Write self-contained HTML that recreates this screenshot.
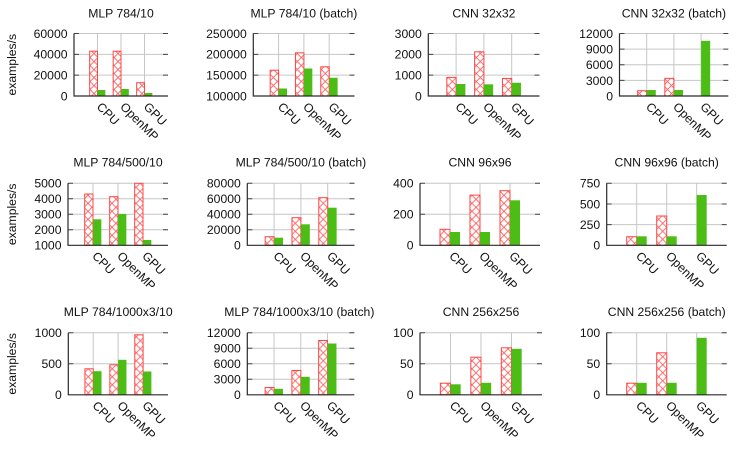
<!DOCTYPE html>
<html><head><meta charset="utf-8"><style>
html,body{margin:0;padding:0;background:#fff}
svg{display:block;font-family:"Liberation Sans",Arial,sans-serif;font-size:12.2px}
text{fill:#111}
.g{stroke:#c6c6c6;stroke-width:1;fill:none}
.t{stroke:#444;stroke-width:1;fill:none}
.a{stroke:#2a2a2a;stroke-width:1.2;fill:none}
.r{fill:url(#xh);stroke:#ff4545;stroke-width:1}
.q{fill:#4bbd14}
.yl{text-anchor:end}
.ti{text-anchor:middle}
</style></head><body>
<svg width="740" height="453" viewBox="0 0 740 453" xmlns="http://www.w3.org/2000/svg">
<defs>
<pattern id="xh" width="8" height="8" patternUnits="userSpaceOnUse">
<rect width="8" height="8" fill="#fff"/>
<path d="M-1 -1L9 9M9 -1L-1 9" stroke="#ff6060" stroke-width="0.9"/>
</pattern>
</defs>

<text transform="rotate(-90 16 64.7)" x="16" y="64.7" class="ti">examples/s</text>
<text transform="rotate(-90 16 214.3)" x="16" y="214.3" class="ti">examples/s</text>
<text transform="rotate(-90 16 363.8)" x="16" y="363.8" class="ti">examples/s</text>

<!-- Row 1 C1 -->
<g transform="translate(74,33.5)">
<path class="g" d="M0 0H94M0 20.83H94M0 41.67H94M23.5 0V62.5M47 0V62.5M70.5 0V62.5"/>
<path class="t" d="M89 0H94M89 20.83H94M89 41.67H94M0 0H5M0 20.83H5M0 41.67H5"/>
<rect class="r" x="15.67" y="17.7" width="7.83" height="44.8"/>
<rect class="q" x="23.5" y="56.5" width="7.83" height="6"/>
<rect class="r" x="39.17" y="17.7" width="7.83" height="44.8"/>
<rect class="q" x="47" y="55.5" width="7.83" height="7"/>
<rect class="r" x="62.67" y="49.2" width="7.83" height="13.3"/>
<rect class="q" x="70.5" y="59.5" width="7.83" height="3"/>
<path class="a" d="M0 0V62.5H94"/>
<text class="yl" x="-6.5" y="4.4">60000</text>
<text class="yl" x="-6.5" y="25.2">40000</text>
<text class="yl" x="-6.5" y="46.1">20000</text>
<text class="yl" x="-6.5" y="66.9">0</text>
<text x="22" y="74" transform="rotate(45 22 74)">CPU</text>
<text x="45.5" y="74" transform="rotate(45 45.5 74)">OpenMP</text>
<text x="69" y="74" transform="rotate(45 69 74)">GPU</text>
<text class="ti" x="47" y="-16.2">MLP 784/10</text>
</g>

<!-- Row 1 C2 -->
<g transform="translate(253.3,33.5)">
<path class="g" d="M0 0H101.2M0 20.83H101.2M0 41.67H101.2M25.3 0V62.5M50.6 0V62.5M75.9 0V62.5"/>
<path class="t" d="M96.2 0H101.2M96.2 20.83H101.2M96.2 41.67H101.2M0 0H5M0 20.83H5M0 41.67H5"/>
<rect class="r" x="16.87" y="36.7" width="8.43" height="25.8"/>
<rect class="q" x="25.3" y="55" width="8.43" height="7.5"/>
<rect class="r" x="42.17" y="19.3" width="8.43" height="43.2"/>
<rect class="q" x="50.6" y="35" width="8.43" height="27.5"/>
<rect class="r" x="67.47" y="33.3" width="8.43" height="29.2"/>
<rect class="q" x="75.9" y="44.25" width="8.43" height="18.25"/>
<path class="a" d="M0 0V62.5H101.2"/>
<text class="yl" x="-6.5" y="4.4">250000</text>
<text class="yl" x="-6.5" y="25.2">200000</text>
<text class="yl" x="-6.5" y="46.1">150000</text>
<text class="yl" x="-6.5" y="66.9">100000</text>
<text x="23.8" y="74" transform="rotate(45 23.8 74)">CPU</text>
<text x="49.1" y="74" transform="rotate(45 49.1 74)">OpenMP</text>
<text x="74.4" y="74" transform="rotate(45 74.4 74)">GPU</text>
<text class="ti" x="50.6" y="-16.2">MLP 784/10 (batch)</text>
</g>

<!-- Row 1 C3 -->
<g transform="translate(428.3,33.5)">
<path class="g" d="M0 0H111.2M0 20.83H111.2M0 41.67H111.2M27.8 0V62.5M55.6 0V62.5M83.4 0V62.5"/>
<path class="t" d="M106.2 0H111.2M106.2 20.83H111.2M106.2 41.67H111.2M0 0H5M0 20.83H5M0 41.67H5"/>
<rect class="r" x="18.53" y="43.9" width="9.27" height="18.6"/>
<rect class="q" x="27.8" y="50.5" width="9.27" height="12"/>
<rect class="r" x="46.33" y="18.3" width="9.27" height="44.2"/>
<rect class="q" x="55.6" y="50.8" width="9.27" height="11.7"/>
<rect class="r" x="74.13" y="44.9" width="9.27" height="17.6"/>
<rect class="q" x="83.4" y="49.25" width="9.27" height="13.25"/>
<path class="a" d="M0 0V62.5H111.2"/>
<text class="yl" x="-6.5" y="4.4">3000</text>
<text class="yl" x="-6.5" y="25.2">2000</text>
<text class="yl" x="-6.5" y="46.1">1000</text>
<text class="yl" x="-6.5" y="66.9">0</text>
<text x="26.3" y="74" transform="rotate(45 26.3 74)">CPU</text>
<text x="54.1" y="74" transform="rotate(45 54.1 74)">OpenMP</text>
<text x="81.9" y="74" transform="rotate(45 81.9 74)">GPU</text>
<text class="ti" x="55.6" y="-16.2">CNN 32x32</text>
</g>

<!-- Row 1 C4 -->
<g transform="translate(619.5,33.5)">
<path class="g" d="M0 0H108.8M0 15.63H108.8M0 31.25H108.8M0 46.88H108.8M27.2 0V62.5M54.4 0V62.5M81.6 0V62.5"/>
<path class="t" d="M103.8 0H108.8M103.8 15.63H108.8M103.8 31.25H108.8M103.8 46.88H108.8M0 0H5M0 15.63H5M0 31.25H5M0 46.88H5"/>
<rect class="r" x="18.13" y="57.2" width="9.07" height="5.3"/>
<rect class="q" x="27.2" y="56.5" width="9.07" height="6"/>
<rect class="r" x="45.33" y="44.8" width="9.07" height="17.7"/>
<rect class="q" x="54.4" y="56.5" width="9.07" height="6"/>
<rect class="q" x="81.6" y="7.4" width="9.07" height="55.1"/>
<path class="a" d="M0 0V62.5H108.8"/>
<text class="yl" x="-6.5" y="4.4">12000</text>
<text class="yl" x="-6.5" y="20">9000</text>
<text class="yl" x="-6.5" y="35.65">6000</text>
<text class="yl" x="-6.5" y="51.3">3000</text>
<text class="yl" x="-6.5" y="66.9">0</text>
<text x="25.7" y="74" transform="rotate(45 25.7 74)">CPU</text>
<text x="52.9" y="74" transform="rotate(45 52.9 74)">OpenMP</text>
<text x="80.1" y="74" transform="rotate(45 80.1 74)">GPU</text>
<text class="ti" x="54.4" y="-16.2">CNN 32x32 (batch)</text>
</g>

<!-- Row 2 C1 -->
<g transform="translate(68,183.3)">
<path class="g" d="M0 0H100M0 15.5H100M0 31H100M0 46.5H100M25 0V62M50 0V62M75 0V62"/>
<path class="t" d="M95 0H100M95 15.5H100M95 31H100M95 46.5H100M0 0H5M0 15.5H5M0 31H5M0 46.5H5"/>
<rect class="r" x="16.67" y="10.7" width="8.33" height="51.3"/>
<rect class="q" x="25" y="36" width="8.33" height="26"/>
<rect class="r" x="41.67" y="13.4" width="8.33" height="48.6"/>
<rect class="q" x="50" y="30.7" width="8.33" height="31.3"/>
<rect class="r" x="66.67" y="0" width="8.33" height="62"/>
<rect class="q" x="75" y="56.7" width="8.33" height="5.3"/>
<path class="a" d="M0 0V62H100"/>
<text class="yl" x="-6.5" y="4.4">5000</text>
<text class="yl" x="-6.5" y="19.9">4000</text>
<text class="yl" x="-6.5" y="35.4">3000</text>
<text class="yl" x="-6.5" y="50.9">2000</text>
<text class="yl" x="-6.5" y="66.4">1000</text>
<text x="23.5" y="73.5" transform="rotate(45 23.5 73.5)">CPU</text>
<text x="48.5" y="73.5" transform="rotate(45 48.5 73.5)">OpenMP</text>
<text x="73.5" y="73.5" transform="rotate(45 73.5 73.5)">GPU</text>
<text class="ti" x="50" y="-17">MLP 784/500/10</text>
</g>

<!-- Row 2 C2 -->
<g transform="translate(247.3,183.3)">
<path class="g" d="M0 0H107.2M0 15.5H107.2M0 31H107.2M0 46.5H107.2M26.8 0V62M53.6 0V62M80.4 0V62"/>
<path class="t" d="M102.2 0H107.2M102.2 15.5H107.2M102.2 31H107.2M102.2 46.5H107.2M0 0H5M0 15.5H5M0 31H5M0 46.5H5"/>
<rect class="r" x="17.87" y="53.4" width="8.93" height="8.6"/>
<rect class="q" x="26.8" y="54.4" width="8.93" height="7.6"/>
<rect class="r" x="44.67" y="34.4" width="8.93" height="27.6"/>
<rect class="q" x="53.6" y="41" width="8.93" height="21"/>
<rect class="r" x="71.47" y="14.4" width="8.93" height="47.6"/>
<rect class="q" x="80.4" y="24.4" width="8.93" height="37.6"/>
<path class="a" d="M0 0V62H107.2"/>
<text class="yl" x="-6.5" y="4.4">80000</text>
<text class="yl" x="-6.5" y="19.9">60000</text>
<text class="yl" x="-6.5" y="35.4">40000</text>
<text class="yl" x="-6.5" y="50.9">20000</text>
<text class="yl" x="-6.5" y="66.4">0</text>
<text x="25.3" y="73.5" transform="rotate(45 25.3 73.5)">CPU</text>
<text x="52.1" y="73.5" transform="rotate(45 52.1 73.5)">OpenMP</text>
<text x="78.9" y="73.5" transform="rotate(45 78.9 73.5)">GPU</text>
<text class="ti" x="53.6" y="-17">MLP 784/500/10 (batch)</text>
</g>

<!-- Row 2 C3 -->
<g transform="translate(420,183.3)">
<path class="g" d="M0 0H120M0 31H120M30 0V62M60 0V62M90 0V62"/>
<path class="t" d="M115 0H120M115 31H120M0 0H5M0 31H5"/>
<rect class="r" x="20" y="46" width="10" height="16"/>
<rect class="q" x="30" y="48.7" width="10" height="13.3"/>
<rect class="r" x="50" y="11.8" width="10" height="50.2"/>
<rect class="q" x="60" y="48.7" width="10" height="13.3"/>
<rect class="r" x="80" y="7.4" width="10" height="54.6"/>
<rect class="q" x="90" y="17" width="10" height="45"/>
<path class="a" d="M0 0V62H120"/>
<text class="yl" x="-6.5" y="4.4">400</text>
<text class="yl" x="-6.5" y="35.4">200</text>
<text class="yl" x="-6.5" y="66.4">0</text>
<text x="28.5" y="73.5" transform="rotate(45 28.5 73.5)">CPU</text>
<text x="58.5" y="73.5" transform="rotate(45 58.5 73.5)">OpenMP</text>
<text x="88.5" y="73.5" transform="rotate(45 88.5 73.5)">GPU</text>
<text class="ti" x="60" y="-17">CNN 96x96</text>
</g>

<!-- Row 2 C4 -->
<g transform="translate(606.7,183.3)">
<path class="g" d="M0 0H120M0 20.67H120M0 41.33H120M30 0V62M60 0V62M90 0V62"/>
<path class="t" d="M115 0H120M115 20.67H120M115 41.33H120M0 0H5M0 20.67H5M0 41.33H5"/>
<rect class="r" x="20" y="53.4" width="10" height="8.6"/>
<rect class="q" x="30" y="53" width="10" height="9"/>
<rect class="r" x="50" y="32.7" width="10" height="29.3"/>
<rect class="q" x="60" y="53" width="10" height="9"/>
<rect class="q" x="90" y="11.7" width="10" height="50.3"/>
<path class="a" d="M0 0V62H120"/>
<text class="yl" x="-6.5" y="4.4">750</text>
<text class="yl" x="-6.5" y="25.07">500</text>
<text class="yl" x="-6.5" y="45.73">250</text>
<text class="yl" x="-6.5" y="66.4">0</text>
<text x="28.5" y="73.5" transform="rotate(45 28.5 73.5)">CPU</text>
<text x="58.5" y="73.5" transform="rotate(45 58.5 73.5)">OpenMP</text>
<text x="88.5" y="73.5" transform="rotate(45 88.5 73.5)">GPU</text>
<text class="ti" x="60" y="-17">CNN 96x96 (batch)</text>
</g>

<!-- Row 3 C1 -->
<g transform="translate(68.3,332.8)">
<path class="g" d="M0 0H99.7M0 31H99.7M24.92 0V62M49.85 0V62M74.78 0V62"/>
<path class="t" d="M94.7 0H99.7M94.7 31H99.7M0 0H5M0 31H5"/>
<rect class="r" x="16.61" y="36" width="8.31" height="26"/>
<rect class="q" x="24.92" y="38.4" width="8.31" height="23.6"/>
<rect class="r" x="41.54" y="32" width="8.31" height="30"/>
<rect class="q" x="49.85" y="27" width="8.31" height="35"/>
<rect class="r" x="66.47" y="2" width="8.31" height="60"/>
<rect class="q" x="74.78" y="38.7" width="8.31" height="23.3"/>
<path class="a" d="M0 0V62H99.7"/>
<text class="yl" x="-6.5" y="4.4">1000</text>
<text class="yl" x="-6.5" y="35.4">500</text>
<text class="yl" x="-6.5" y="66.4">0</text>
<text x="23.4" y="73.5" transform="rotate(45 23.4 73.5)">CPU</text>
<text x="48.35" y="73.5" transform="rotate(45 48.35 73.5)">OpenMP</text>
<text x="73.3" y="73.5" transform="rotate(45 73.3 73.5)">GPU</text>
<text class="ti" x="49.85" y="-17">MLP 784/1000x3/10</text>
</g>

<!-- Row 3 C2 -->
<g transform="translate(247.3,332.8)">
<path class="g" d="M0 0H107M0 15.5H107M0 31H107M0 46.5H107M26.75 0V62M53.5 0V62M80.25 0V62"/>
<path class="t" d="M102 0H107M102 15.5H107M102 31H107M102 46.5H107M0 0H5M0 15.5H5M0 31H5M0 46.5H5"/>
<rect class="r" x="17.83" y="54.7" width="8.92" height="7.3"/>
<rect class="q" x="26.75" y="56" width="8.92" height="6"/>
<rect class="r" x="44.58" y="37.7" width="8.92" height="24.3"/>
<rect class="q" x="53.5" y="44" width="8.92" height="18"/>
<rect class="r" x="71.33" y="7.7" width="8.92" height="54.3"/>
<rect class="q" x="80.25" y="10.7" width="8.92" height="51.3"/>
<path class="a" d="M0 0V62H107"/>
<text class="yl" x="-6.5" y="4.4">12000</text>
<text class="yl" x="-6.5" y="19.9">9000</text>
<text class="yl" x="-6.5" y="35.4">6000</text>
<text class="yl" x="-6.5" y="50.9">3000</text>
<text class="yl" x="-6.5" y="66.4">0</text>
<text x="25.25" y="73.5" transform="rotate(45 25.25 73.5)">CPU</text>
<text x="52" y="73.5" transform="rotate(45 52 73.5)">OpenMP</text>
<text x="78.75" y="73.5" transform="rotate(45 78.75 73.5)">GPU</text>
<text class="ti" x="52" y="-17">MLP 784/1000x3/10 (batch)</text>
</g>

<!-- Row 3 C3 -->
<g transform="translate(420,332.8)">
<path class="g" d="M0 0H122M0 31H122M30.5 0V62M61 0V62M91.5 0V62"/>
<path class="t" d="M117 0H122M117 31H122M0 0H5M0 31H5"/>
<rect class="r" x="20.33" y="50.4" width="10.17" height="11.6"/>
<rect class="q" x="30.5" y="51.5" width="10.17" height="10.5"/>
<rect class="r" x="50.83" y="24.4" width="10.17" height="37.6"/>
<rect class="q" x="61" y="50" width="10.17" height="12"/>
<rect class="r" x="81.33" y="15" width="10.17" height="47"/>
<rect class="q" x="91.5" y="16" width="10.17" height="46"/>
<path class="a" d="M0 0V62H122"/>
<text class="yl" x="-6.5" y="4.4">100</text>
<text class="yl" x="-6.5" y="35.4">50</text>
<text class="yl" x="-6.5" y="66.4">0</text>
<text x="29" y="73.5" transform="rotate(45 29 73.5)">CPU</text>
<text x="59.5" y="73.5" transform="rotate(45 59.5 73.5)">OpenMP</text>
<text x="90" y="73.5" transform="rotate(45 90 73.5)">GPU</text>
<text class="ti" x="61" y="-17">CNN 256x256</text>
</g>

<!-- Row 3 C4 -->
<g transform="translate(606.7,332.8)">
<path class="g" d="M0 0H120M0 31H120M30 0V62M60 0V62M90 0V62"/>
<path class="t" d="M115 0H120M115 31H120M0 0H5M0 31H5"/>
<rect class="r" x="20" y="50.4" width="10" height="11.6"/>
<rect class="q" x="30" y="50" width="10" height="12"/>
<rect class="r" x="50" y="20" width="10" height="42"/>
<rect class="q" x="60" y="50" width="10" height="12"/>
<rect class="q" x="90" y="5" width="10" height="57"/>
<path class="a" d="M0 0V62H120"/>
<text class="yl" x="-6.5" y="4.4">100</text>
<text class="yl" x="-6.5" y="35.4">50</text>
<text class="yl" x="-6.5" y="66.4">0</text>
<text x="28.5" y="73.5" transform="rotate(45 28.5 73.5)">CPU</text>
<text x="58.5" y="73.5" transform="rotate(45 58.5 73.5)">OpenMP</text>
<text x="88.5" y="73.5" transform="rotate(45 88.5 73.5)">GPU</text>
<text class="ti" x="60" y="-17">CNN 256x256 (batch)</text>
</g>
</svg>
</body></html>
